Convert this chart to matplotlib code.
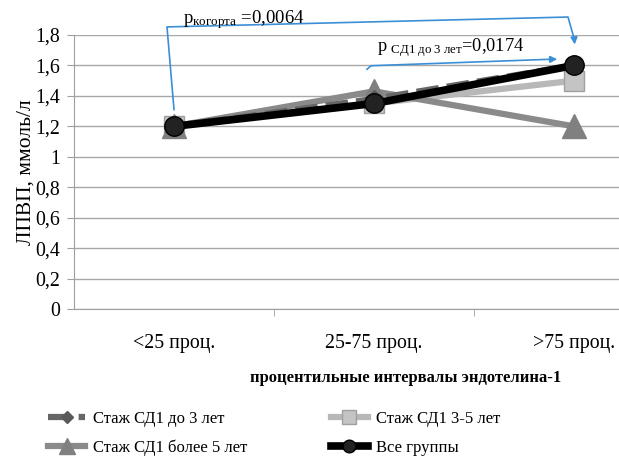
import numpy as np
import matplotlib.pyplot as plt
from matplotlib.ticker import FixedLocator

plt.rcParams['font.family'] = ['Liberation Serif', 'DejaVu Serif']
plt.rcParams['mathtext.fontset'] = 'custom'
plt.rcParams['mathtext.rm'] = 'Liberation Serif'
plt.rcParams['mathtext.it'] = 'Liberation Serif:italic'

# -----------------------------------------
# Data
# -----------------------------------------
categories = ["<25 проц.", "25-75 проц.", ">75 проц."]
stage_lt3 = [1.2, 1.38, 1.6]
stage_3_5 = [1.2, 1.35, 1.5]
stage_gt5 = [1.2, 1.43, 1.2]
all_groups = [1.2, 1.35, 1.6]
y_ticks = [0, 0.2, 0.4, 0.6, 0.8, 1.0, 1.2, 1.4, 1.6, 1.8]
y_tick_labels = ["0", "0,2", "0,4", "0,6", "0,8", "1", "1,2", "1,4", "1,6", "1,8"]

fig = plt.figure(figsize=(6.19, 4.58), dpi=100)
ax = fig.add_axes([74 / 619, 149 / 458, 600 / 619, 274 / 458])

x = np.arange(len(categories))

ax.plot(x, stage_3_5, color='#b8b8b8', lw=4.5, marker='s', ms=15,
        mfc='#c4c4c4', mec='#a0a0a0', label='Стаж СД1 3-5 лет', zorder=3)
ax.plot(x, stage_gt5, color='#8a8a8a', lw=4.5, marker='^', ms=17,
        mfc='#808080', mec='#808080', label='Стаж СД1 более 5 лет', zorder=3)
ax.plot(x, stage_lt3, color='#666666', lw=4.5, ls=(0, (3.6, 1.3)), marker='D', ms=9,
        mfc='#5a5a5a', mec='#5a5a5a', label='Стаж СД1 до 3 лет', zorder=4)
ax.plot(x, all_groups, color='black', lw=5.5, marker='o', ms=14,
        mfc='#222222', mec='black', label='Все группы', zorder=5)

ax.set_xlim(-0.5, 2.5)
ax.set_ylim(0, 1.8)
ax.set_yticks(y_ticks)
ax.set_yticklabels(y_tick_labels)
ax.yaxis.grid(True, color='#a8a8a8', lw=1)
ax.set_axisbelow(True)

ax.set_xticks(x)
ax.set_xticklabels(categories)
ax.xaxis.set_minor_locator(FixedLocator([0.5, 1.5]))
ax.tick_params(axis='x', which='major', length=0, pad=18, labelsize=14.3)
ax.tick_params(axis='x', which='minor', length=5, color='#a0a0a0')
ax.tick_params(axis='y', length=5, color='#a0a0a0', labelsize=14.3, pad=5)

for s in ['top', 'right']:
    ax.spines[s].set_visible(False)
ax.spines['left'].set_color('#a0a0a0')
ax.spines['bottom'].set_color('#a0a0a0')

ax.set_ylabel('ЛПВП, ммоль/л', fontsize=15.5, labelpad=0)
fig.text(406 / 619, 1 - 378 / 458, 'процентильные интервалы эндотелина-1',
         fontsize=12, fontweight='bold', ha='center', va='center')

# significance brackets
blue = '#3a8fd6'
ax.plot([0.0, -0.035, 1.97, 2.0], [1.31, 1.853, 1.918, 1.78], color=blue, lw=1.2, clip_on=False)
ax.annotate('', xy=(2.005, 1.72), xytext=(2.0, 1.79),
            arrowprops=dict(arrowstyle='-|>', color=blue, lw=1.2), annotation_clip=False)
ax.plot([0.965, 0.985, 1.87], [1.575, 1.598, 1.64], color=blue, lw=1.2)
ax.annotate('', xy=(1.93, 1.642), xytext=(1.86, 1.639),
            arrowprops=dict(arrowstyle='-|>', color=blue, lw=1.2))
ax.text(0.045, 1.875, r'p$_{\mathrm{когорта}}$ =0,0064', fontsize=13.5, va='baseline')
ax.text(1.015, 1.69, r'p $_{\mathrm{СД1\ до\ 3\ лет}}$=0,0174', fontsize=13.2, va='baseline')

handles, labels = ax.get_legend_handles_labels()
order = [2, 1, 0, 3]
ax.legend([handles[i] for i in order], [labels[i] for i in order],
          ncol=2, frameon=False, fontsize=12, loc='lower left',
          bbox_to_anchor=(40 / 619, -0.014), bbox_transform=fig.transFigure,
          handlelength=2.2, handletextpad=0.5, markerscale=0.65,
          columnspacing=5.0, labelspacing=0.75, borderaxespad=0.1)

plt.savefig('out.png', dpi=100)
